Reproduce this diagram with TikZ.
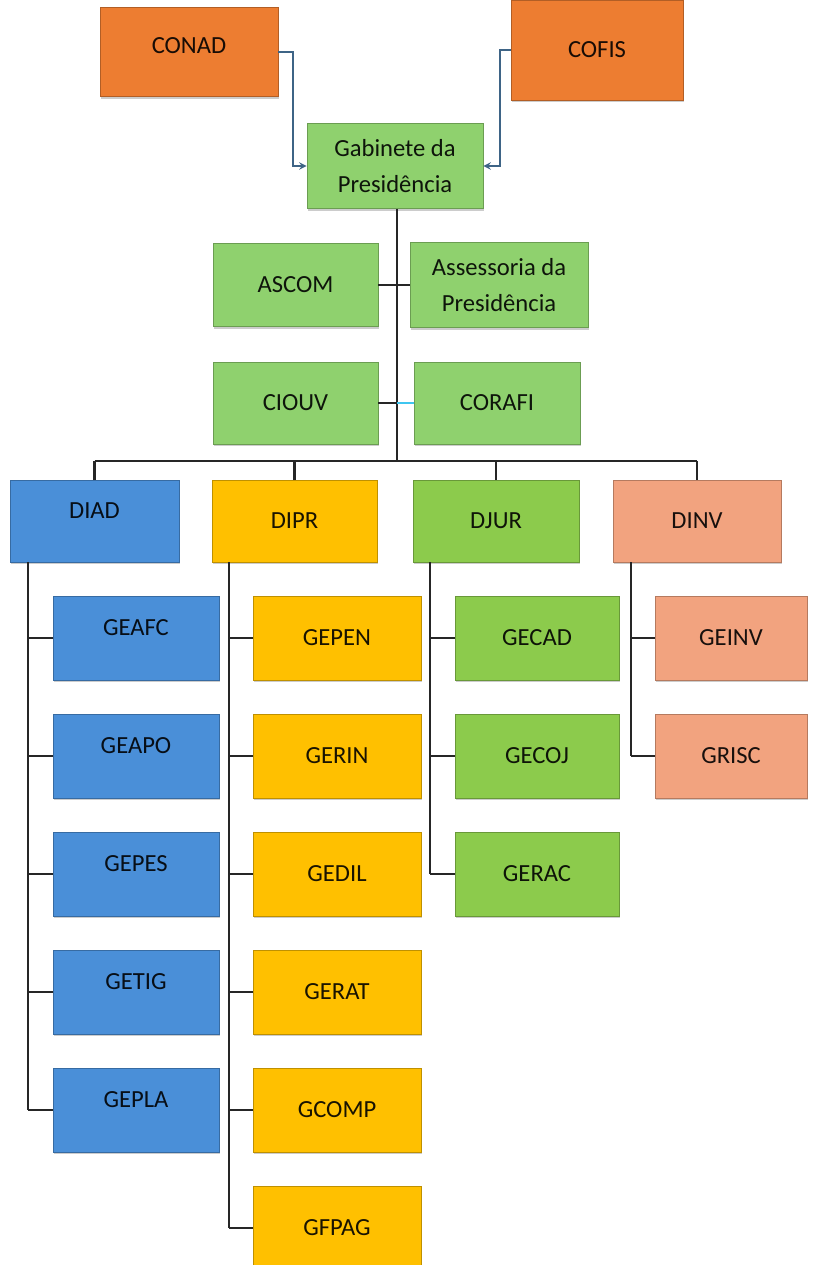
\documentclass[tikz,border=0pt]{standalone}
\usepackage{fontspec}
\setmainfont{Carlito}
\usetikzlibrary{positioning, shadows}
\usepackage{xcolor}
\definecolor{orangebox}{HTML}{ED7D31}
\definecolor{greenbox}{HTML}{8FD16E}
\definecolor{bluebox}{HTML}{4A8FD8}
\definecolor{yellowbox}{HTML}{FFC000}
\definecolor{limebox}{HTML}{8CCB4C}
\definecolor{salmonbox}{HTML}{F2A37F}
\definecolor{linkblue}{HTML}{3E6486}
\definecolor{cyanlink}{HTML}{3FC6F0}

\begin{document}
\begin{tikzpicture}[x=0.03cm, y=-0.03cm,
	box/.style={rectangle, draw=#1!75!black, fill=#1, text=#1!10!black, line width=0.6pt,
		minimum width=4.95cm, minimum height=2.46cm, inner sep=2pt, align=center,
		font=\fontsize{21}{30}\selectfont,
		drop shadow={shadow xshift=0.8pt, shadow yshift=-2pt, opacity=0.4}},
	subbox/.style={box=#1, minimum height=2.52cm},
	raised/.style={text depth=0.6cm},
	tree/.style={line width=2.4pt, black!85},
	link/.style={line width=1.8pt, linkblue, -stealth}]
	\useasboundingbox (0,0) rectangle (813,1265);
	% Councils
	\node[box=orangebox, minimum width=5.34cm, minimum height=2.67cm, text depth=0.4cm] (conad) at (189,52) {CONAD};
	\node[box=orangebox, minimum width=5.16cm, minimum height=3cm] (cofis) at (597,50) {COFIS};
	\node[box=greenbox, minimum width=5.28cm, minimum height=2.55cm] (gab) at (395,166) {Gabinete da\\Presidência};
	\draw[link] (conad.east) -- ++(15,0) |- (gab.west);
	\draw[link] (cofis.west) -- ++(-11,0) |- (gab.east);
	% Staff units
	\node[box=greenbox, minimum height=2.49cm] (ascom) at (295.5,285) {ASCOM};
	\node[box=greenbox, minimum width=5.34cm, minimum height=2.55cm] (asp) at (499,285) {Assessoria da\\Presidência};
	\node[box=greenbox] (ciouv) at (295.5,403) {CIOUV};
	\node[box=greenbox, minimum width=4.98cm] (corafi) at (497,403) {CORAFI};
	\coordinate (hub) at (397,461);
	\draw[tree] (gab.south -| hub) -- (hub);
	\draw[tree] (ascom.east) -- (asp.west);
	\draw[tree] (ciouv.east) -- (ciouv.east -| hub);
	\draw[line width=2.4pt, cyanlink] (corafi.west -| hub) -- (corafi.west);
	% Directorates
	\node[box=bluebox, raised, minimum width=5.07cm] (diad) at (94.5,521) {DIAD};
	\node[box=yellowbox] (dipr) at (294.5,521) {DIPR};
	\node[box=limebox, minimum width=4.98cm] (djur) at (496,521) {DJUR};
	\node[box=salmonbox, minimum width=5.04cm] (dinv) at (697,521) {DINV};
	\draw[tree] (diad.north |- hub) -- (dinv.north |- hub);
	\draw[tree] (diad.north |- hub) -- (diad.north);
	\draw[tree] (dipr.north |- hub) -- (dipr.north);
	\draw[tree] (djur.north |- hub) -- (djur.north);
	\draw[tree] (dinv.north |- hub) -- (dinv.north);
	% DIAD
	\node[subbox=bluebox, raised, minimum width=4.98cm] (geafc) at (136,638) {GEAFC};
	\node[subbox=bluebox, raised, minimum width=4.98cm] (geapo) at (136,756) {GEAPO};
	\node[subbox=bluebox, raised, minimum width=4.98cm] (gepes) at (136,874) {GEPES};
	\node[subbox=bluebox, raised, minimum width=4.98cm] (getig) at (136,992) {GETIG};
	\node[subbox=bluebox, raised, minimum width=4.98cm] (gepla) at (136,1110) {GEPLA};
	% DIPR
	\node[subbox=yellowbox, minimum width=5.04cm] (gepen) at (337,638) {GEPEN};
	\node[subbox=yellowbox, minimum width=5.04cm] (gerin) at (337,756) {GERIN};
	\node[subbox=yellowbox, minimum width=5.04cm] (gedil) at (337,874) {GEDIL};
	\node[subbox=yellowbox, minimum width=5.04cm] (gerat) at (337,992) {GERAT};
	\node[subbox=yellowbox, minimum width=5.04cm] (gcomp) at (337,1110) {GCOMP};
	\node[subbox=yellowbox, minimum width=5.04cm] (gfpag) at (337,1228) {GFPAG};
	% DJUR
	\node[subbox=limebox, minimum width=4.92cm] (gecad) at (537,638) {GECAD};
	\node[subbox=limebox, minimum width=4.92cm] (gecoj) at (537,756) {GECOJ};
	\node[subbox=limebox, minimum width=4.92cm] (gerac) at (537,874) {GERAC};
	% DINV
	\node[subbox=salmonbox, minimum width=4.56cm] (geinv) at (731,638) {GEINV};
	\node[subbox=salmonbox, minimum width=4.56cm] (grisc) at (731,756) {GRISC};
	% Branch lines
	\coordinate (adl) at (28,0);
	\coordinate (prl) at (229,0);
	\coordinate (jul) at (430,0);
	\coordinate (inl) at (631,0);
	\draw[tree] (diad.south -| adl) -- (adl |- gepla.west);
	\draw[tree] (dipr.south -| prl) -- (prl |- gfpag.west);
	\draw[tree] (djur.south -| jul) -- (jul |- gerac.west);
	\draw[tree] (dinv.south -| inl) -- (inl |- grisc.west);
	\foreach \u in {geafc,geapo,gepes,getig,gepla}
		\draw[tree] (adl |- \u.west) -- (\u.west);
	\foreach \u in {gepen,gerin,gedil,gerat,gcomp,gfpag}
		\draw[tree] (prl |- \u.west) -- (\u.west);
	\foreach \u in {gecad,gecoj,gerac}
		\draw[tree] (jul |- \u.west) -- (\u.west);
	\foreach \u in {geinv,grisc}
		\draw[tree] (inl |- \u.west) -- (\u.west);
\end{tikzpicture}
\end{document}
